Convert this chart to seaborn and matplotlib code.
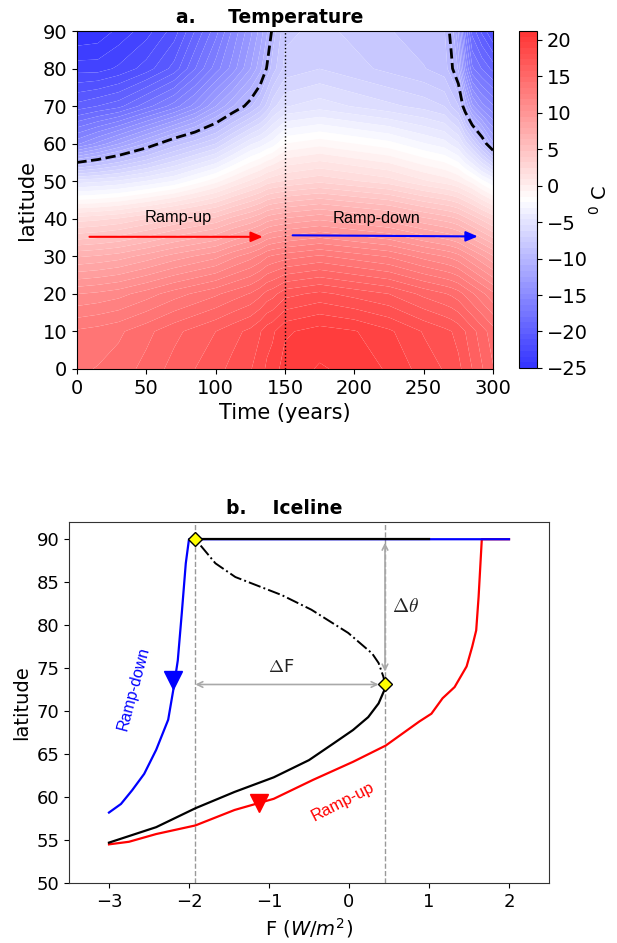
import numpy as np
import pandas as pd
import matplotlib
matplotlib.use("Agg")
import matplotlib.pyplot as plt
from matplotlib.colors import ListedColormap
import seaborn as sns

# ---------------- data : panel a (temperature field) -------------
time_years = [0, 15, 30, 50, 70, 85, 100, 112, 125, 132, 137, 141, 150, 175, 200, 225,
              250, 265, 270, 275, 280, 285, 292, 300]
lat_deg = [0, 10, 20, 30, 40, 50, 60, 70, 80, 90]
# one column per time value, from equator (lat 0) to pole (lat 90)
temp_t0 = [14.0, 13.5, 11.0, 7.0, 2.0, -5.0, -15.0, -20.0, -23.0, -25.0]
temp_t15 = [14.2, 13.7, 11.2, 7.2, 2.2, -4.8, -13.8, -19.5, -23.0, -24.8]
temp_t30 = [14.5, 14.0, 11.5, 7.5, 2.5, -4.5, -12.5, -19.0, -22.5, -24.0]
temp_t50 = [15.2, 14.7, 12.2, 8.2, 3.2, -3.8, -10.8, -17.5, -21.5, -23.0]
temp_t70 = [16.0, 15.5, 13.0, 9.0, 4.0, -3.0, -9.0, -16.0, -20.0, -21.5]
temp_t85 = [16.5, 16.0, 13.5, 9.5, 4.5, -2.0, -8.0, -14.5, -18.0, -19.5]
temp_t100 = [17.0, 16.5, 14.0, 10.0, 5.0, -1.0, -7.0, -12.5, -16.0, -17.5]
temp_t112 = [17.5, 17.0, 14.5, 10.8, 5.8, 0.0, -5.5, -11.0, -14.5, -15.5]
temp_t125 = [18.0, 17.5, 15.0, 11.5, 6.5, 1.0, -4.0, -9.5, -12.5, -13.5]
temp_t132 = [18.5, 18.0, 15.5, 12.0, 7.0, 1.5, -3.5, -8.5, -11.2, -12.2]
temp_t137 = [19.0, 18.5, 16.0, 12.5, 7.5, 2.0, -3.0, -7.5, -9.9, -11.0]
temp_t141 = [19.2, 18.7, 16.2, 12.7, 7.7, 2.2, -2.7, -6.5, -9.0, -9.8]
temp_t150 = [20.0, 19.5, 17.0, 13.0, 8.0, 2.5, -1.5, -5.5, -7.5, -8.0]
temp_t175 = [20.5, 20.0, 17.5, 13.5, 8.5, 3.0, -1.0, -5.0, -7.0, -7.5]
temp_t200 = [20.2, 19.7, 17.0, 13.0, 8.0, 2.5, -1.5, -5.5, -7.5, -8.0]
temp_t225 = [19.5, 19.0, 16.5, 12.5, 7.5, 2.0, -2.0, -6.0, -8.0, -8.5]
temp_t250 = [18.5, 18.0, 15.5, 11.5, 6.5, 1.0, -3.0, -6.5, -8.5, -9.0]
temp_t265 = [18.0, 17.5, 15.0, 11.0, 6.0, 0.5, -3.5, -7.0, -9.0, -9.3]
temp_t270 = [17.8, 17.3, 14.8, 10.8, 5.8, 0.3, -4.0, -7.8, -9.8, -10.3]
temp_t275 = [17.5, 17.0, 14.5, 10.5, 5.5, 0.0, -4.5, -8.5, -11.0, -12.5]
temp_t280 = [17.0, 16.5, 14.0, 10.0, 5.0, -0.5, -5.8, -10.8, -14.5, -16.5]
temp_t285 = [16.5, 16.0, 13.5, 9.5, 4.5, -1.0, -7.0, -13.0, -17.0, -19.0]
temp_t292 = [15.8, 15.3, 12.8, 8.8, 3.8, -2.0, -9.0, -14.5, -18.0, -20.5]
temp_t300 = [15.0, 14.5, 12.0, 8.0, 3.0, -3.0, -11.5, -15.5, -19.0, -22.0]
temp_columns = [temp_t0, temp_t15, temp_t30, temp_t50, temp_t70, temp_t85, temp_t100,
                temp_t112, temp_t125, temp_t132, temp_t137, temp_t141, temp_t150,
                temp_t175, temp_t200, temp_t225, temp_t250, temp_t265, temp_t270,
                temp_t275, temp_t280, temp_t285, temp_t292, temp_t300]
cbar_ticks = [-25, -20, -15, -10, -5, 0, 5, 10, 15, 20]
cbar_range = [-25, 21.2]
iceline_level = -10

# ---------------- data : panel b (iceline vs forcing) -------------
F_rampup = [-3.0, -2.75, -2.41, -1.92, -1.43, -1.13, -0.94, -0.45, 0.05, 0.46, 0.88, 1.03,
            1.17, 1.32, 1.47, 1.54, 1.59, 1.62, 1.66, 2.0]
lat_rampup = [54.5, 54.8, 55.7, 56.7, 58.5, 59.3, 59.8, 62.0, 64.1, 66.0, 68.8, 69.7,
              71.5, 72.8, 75.2, 77.5, 79.4, 83.3, 90.0, 90.0]
F_rampdown = [2.0, -2.0, -2.04, -2.09, -2.14, -2.19, -2.26, -2.41, -2.56, -2.71, -2.85, -3.0]
lat_rampdown = [90.0, 90.0, 87.2, 81.4, 75.9, 72.8, 69.0, 65.5, 62.7, 60.8, 59.2, 58.2]
F_stable = [-3.0, -2.41, -1.92, -1.43, -0.94, -0.50, -0.20, 0.05, 0.24, 0.37, 0.44, 0.45]
lat_stable = [54.7, 56.5, 58.7, 60.6, 62.3, 64.3, 66.2, 67.8, 69.3, 70.9, 72.4, 73.1]
F_unstable = [0.45, 0.43, 0.37, 0.29, -0.01, -0.47, -0.84, -1.42, -1.67, -1.92]
lat_unstable = [73.1, 74.0, 75.6, 76.7, 79.1, 81.8, 83.5, 85.6, 87.2, 90.0]
F_icefree = [-1.92, 1.0]
lat_icefree = [90.0, 90.0]
F_tipping = [-1.92, 0.45]
lat_tipping = [90.0, 73.1]

# ---------------- figure -------------
plt.rcParams["font.family"] = ["DejaVu Sans"]
plt.rcParams["axes.linewidth"] = 0.8

fig = plt.figure(figsize=(6.17, 9.43), dpi=100)
ax1 = fig.add_axes([0.1248, 0.6087, 0.6742, 0.3584])
cax = fig.add_axes([0.8412, 0.6098, 0.0292, 0.3574])
ax2 = fig.add_axes([0.1118, 0.0636, 0.778, 0.3828])

# --- panel a
T = np.array(temp_columns).T  # shape (lat, time)
base = plt.get_cmap("bwr")(np.linspace(0, 1, 256))
base[:, :3] = base[:, :3] * 0.8 + 0.2
cmap = ListedColormap(base)
levels = np.linspace(cbar_range[0], cbar_range[1], 60)
cs = ax1.contourf(time_years, lat_deg, T, levels=levels, cmap=cmap, antialiased=True)
ax1.contour(time_years, lat_deg, T, levels=[iceline_level], colors="k",
            linestyles="--", linewidths=2)
ax1.axvline(150, color="k", ls=":", lw=1)
ax1.set_xlim(0, 300)
ax1.set_ylim(0, 90)
ax1.set_xticks(range(0, 301, 50))
ax1.set_yticks(range(0, 91, 10))
ax1.tick_params(labelsize=14)
ax1.set_xlabel("Time (years)", fontsize=15)
ax1.set_ylabel("latitude", fontsize=15)
ax1.set_title("a.     Temperature", fontweight="bold", fontsize=13.5, x=0.464)

arrow_style = "-|>,head_length=0.7,head_width=0.3"
ax1.annotate("", xy=(134, 35.2), xytext=(9, 35.2),
             arrowprops=dict(arrowstyle=arrow_style, color="red", lw=1.5,
                             shrinkA=0, shrinkB=0, mutation_scale=10))
ax1.annotate("", xy=(289, 35.3), xytext=(155.5, 35.6),
             arrowprops=dict(arrowstyle=arrow_style, color="blue", lw=1.5,
                             shrinkA=0, shrinkB=0, mutation_scale=10))
ax1.text(73, 39.2, "Ramp-up", ha="center", va="baseline", fontsize=11.7,
         family="Liberation Sans")
ax1.text(216, 39.0, "Ramp-down", ha="center", va="baseline", fontsize=11.7,
         family="Liberation Sans")

cbar = fig.colorbar(cs, cax=cax, ticks=cbar_ticks)
cbar.ax.tick_params(labelsize=14)
cbar.set_label(r"$^0$ C", fontsize=14, labelpad=1)
cbar.outline.set_linewidth(0.8)

# --- panel b
df_up = pd.DataFrame({"F": F_rampup, "lat": lat_rampup})
df_dn = pd.DataFrame({"F": F_rampdown, "lat": lat_rampdown})
df_st = pd.DataFrame({"F": F_stable, "lat": lat_stable})
df_un = pd.DataFrame({"F": F_unstable, "lat": lat_unstable})
df_if = pd.DataFrame({"F": F_icefree, "lat": lat_icefree})

ax2.axvline(F_tipping[0], color="#999999", ls="--", lw=1, zorder=1)
ax2.axvline(F_tipping[1], color="#999999", ls="--", lw=1, zorder=1)

sns.lineplot(data=df_up, x="F", y="lat", sort=False, estimator=None, color="red",
             lw=1.6, ax=ax2)
sns.lineplot(data=df_dn, x="F", y="lat", sort=False, estimator=None, color="blue",
             lw=1.6, ax=ax2)
sns.lineplot(data=df_st, x="F", y="lat", sort=False, estimator=None, color="black",
             lw=1.6, ax=ax2)
sns.lineplot(data=df_un, x="F", y="lat", sort=False, estimator=None, color="black",
             lw=1.4, linestyle="-.", ax=ax2)
sns.lineplot(data=df_if, x="F", y="lat", sort=False, estimator=None, color="black",
             lw=1.6, ax=ax2)

ax2.plot(F_tipping, lat_tipping, ls="none", marker="D", mfc="yellow", mec="black",
         ms=7, mew=1, zorder=5)
ax2.plot(-2.2, 73.6, marker="v", color="blue", ms=13, ls="none", zorder=4)
ax2.plot(-1.13, 59.3, marker="v", color="red", ms=13, ls="none", zorder=4)

ax2.annotate("", xy=(-1.92, 73.1), xytext=(0.37, 73.1),
             arrowprops=dict(arrowstyle="<->", color="darkgray", lw=1.2,
                             shrinkA=0, shrinkB=0, mutation_scale=10))
ax2.annotate("", xy=(0.45, 89.6), xytext=(0.45, 74.6),
             arrowprops=dict(arrowstyle="<->", color="darkgray", lw=1.2,
                             shrinkA=0, shrinkB=0, mutation_scale=10))
ax2.text(-0.845, 75.1, r"$\Delta$F", ha="center", va="center", fontsize=13,
         math_fontfamily="cm", color="#222222")
ax2.text(0.71, 82.2, r"$\Delta\theta$", ha="center", va="center", fontsize=14,
         math_fontfamily="cm", color="#222222")
ax2.text(-2.69, 72.6, "Ramp-down", rotation=75, color="blue", fontsize=11.5,
         ha="center", va="center", family="Liberation Sans")
ax2.text(-0.08, 59.5, "Ramp-up", rotation=27, color="red", fontsize=12,
         ha="center", va="center", family="Liberation Sans")

ax2.set_xlim(-3.5, 2.5)
ax2.set_ylim(50, 92)
ax2.set_xticks(range(-3, 3))
ax2.set_yticks(range(50, 91, 5))
ax2.tick_params(labelsize=13)
ax2.set_xlabel(r"F ($W/m^2$)", fontsize=14)
ax2.set_ylabel("latitude", fontsize=14)
ax2.set_title("b.    Iceline", fontweight="bold", fontsize=13.5, x=0.448)
for s in ax2.spines.values():
    s.set_color("#333333")

fig.savefig("out.png", dpi=100)
